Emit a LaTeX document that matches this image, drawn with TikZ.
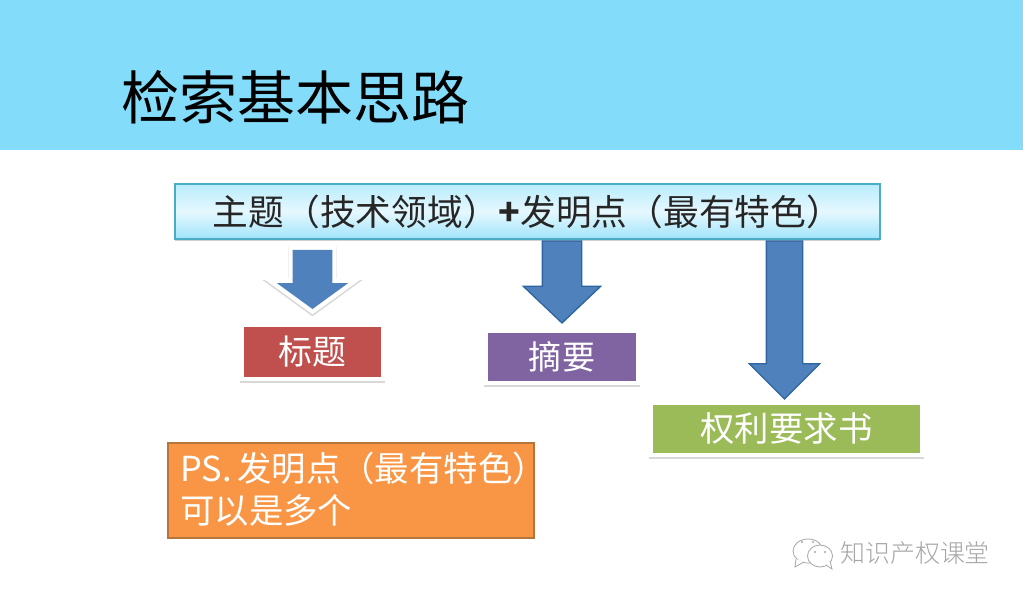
\documentclass[tikz,border=0pt]{standalone}
\usepackage{fontspec}
\setmainfont{Noto Sans CJK SC}
\newfontfamily\lightcjk{Noto Sans CJK SC Light}
\usetikzlibrary{shapes.arrows,shadows}
\definecolor{bandblue}{HTML}{83DCFA}
\definecolor{barline}{HTML}{4BACC6}
\definecolor{bartop}{HTML}{B9ECFD}
\definecolor{barmid}{HTML}{E6F8FE}
\definecolor{barlow}{HTML}{A0E4FB}
\definecolor{arrowblue}{HTML}{4F81BD}
\definecolor{arrowline}{HTML}{2F659F}
\definecolor{redbox}{HTML}{C0504D}
\definecolor{purplebox}{HTML}{8064A2}
\definecolor{greenbox}{HTML}{9BBB59}
\definecolor{orangebox}{HTML}{F99645}
\definecolor{orangeline}{HTML}{B5763C}
\definecolor{markgray}{HTML}{A6A6A6}
\newcommand{\shaftwidth}[1]{\rule{0pt}{\dimexpr #1pt*3/4\relax}}
\tikzset{
  barshadow/.style={drop shadow={shadow xshift=0pt,shadow yshift=-1.8pt,opacity=.3,fill=black!60}},
  haloshadow/.style={drop shadow={shadow xshift=0pt,shadow yshift=-1.2pt,opacity=.3,
    fill=black!50,draw=black!50,line join=miter,line width=#1}},
  labelbox/.style={rectangle,draw=white,line width=3pt,inner sep=0pt,outer sep=0pt,
    text=white,font=\fontsize{25.5pt}{25.5pt}\selectfont,haloshadow=3.5pt},
  downarrow/.style={single arrow,rotate=-90,anchor=tip,inner sep=0pt,outer sep=0pt,
    single arrow head indent=0pt,fill=arrowblue},
  plainarrow/.style={downarrow,draw=arrowline,line width=1pt},
}
\begin{document}
\begin{tikzpicture}[x=0.75pt,y=-0.75pt]
\useasboundingbox (0,0) rectangle (1023,598);
\fill[white] (0,0) rectangle (1023,598);

% Title band
\fill[bandblue] (0,0) rectangle (1023,150);
\node[anchor=west,inner sep=0pt,font=\fontsize{43.5pt}{43.5pt}\selectfont,text=black] (title) at (121,97) {检索基本思路};

% Heading bar
\node[rectangle,minimum width=705*0.75pt,minimum height=55*0.75pt,inner sep=0pt,
      draw=barline,line width=1.2pt,
      top color=bartop,bottom color=barlow,middle color=barmid,
      barshadow,font=\fontsize{26.8pt}{26.8pt}\selectfont,text=black!85] (bar) at (527.5,211.5)
  {主题（技术领域）\textbf{+}发明点（最有特色）};

% Result boxes
\node[labelbox,fill=redbox,minimum width=141*0.75pt,minimum height=54*0.75pt] (titlebox) at (312.5,352) {标题};
\node[labelbox,fill=purplebox,minimum width=152*0.75pt,minimum height=52*0.75pt,font=\fontsize{24.8pt}{24.8pt}\selectfont] (abstractbox) at (562,357) {摘要};
\node[labelbox,fill=greenbox,minimum width=271*0.75pt,minimum height=52*0.75pt,font=\fontsize{25.8pt}{25.8pt}\selectfont] (claimsbox) at (786.5,429) {权利要求书};

% Block arrows: the strut inside each node sets the shaft width
\node[downarrow,haloshadow=7pt,preaction={draw=white,line width=6.5pt},minimum height=59*0.75pt,
      single arrow head extend=16*0.75pt,single arrow tip angle=108] (arrowone) at (312.5,309) {\shaftwidth{39}};
\node[plainarrow,minimum height=82*0.75pt,
      single arrow head extend=19*0.75pt,single arrow tip angle=93] (arrowtwo) at (562,323) {\shaftwidth{38}};
\node[plainarrow,minimum height=158*0.75pt,
      single arrow head extend=17*0.75pt,single arrow tip angle=90] (arrowthree) at (784.5,399) {\shaftwidth{35}};

% Note box
\node[rectangle,anchor=north west,minimum width=366*0.75pt,minimum height=95*0.75pt,inner sep=0pt,
      fill=orangebox,draw=orangeline,line width=1.6pt] (note) at (167,442) {};
\node[anchor=west,inner sep=0pt,text=white,font=\fontsize{25.8pt}{25.8pt}\selectfont] (noteone) at (180,468) {PS.\hspace{0.16em}发明点（最有特色）};
\node[anchor=west,inner sep=0pt,text=white,font=\fontsize{25.8pt}{25.8pt}\selectfont] (notetwo) at (180,510) {可以是多个};

% Account mark: two chat bubbles and the account name
\begin{scope}[draw=markgray,line width=0.6pt]
  \draw[fill=white] (808,551) ellipse [x radius=15,y radius=12];
  \draw[fill=white] (796,559) -- (795,567) -- (804,562);
  \draw[fill=white] (820,556) ellipse [x radius=12.5,y radius=11];
  \draw[fill=white] (826,565) -- (832,569) -- (830,561);
  \fill[markgray] (802,542) circle (1.2) (813,542) circle (1.2) (815,552) circle (1.2) (825,552) circle (1.2);
\end{scope}
\node[anchor=west,inner sep=0pt,text=markgray,font=\lightcjk\fontsize{18.7pt}{18.7pt}\selectfont] (account) at (840,553) {知识产权课堂};
\end{tikzpicture}
\end{document}
